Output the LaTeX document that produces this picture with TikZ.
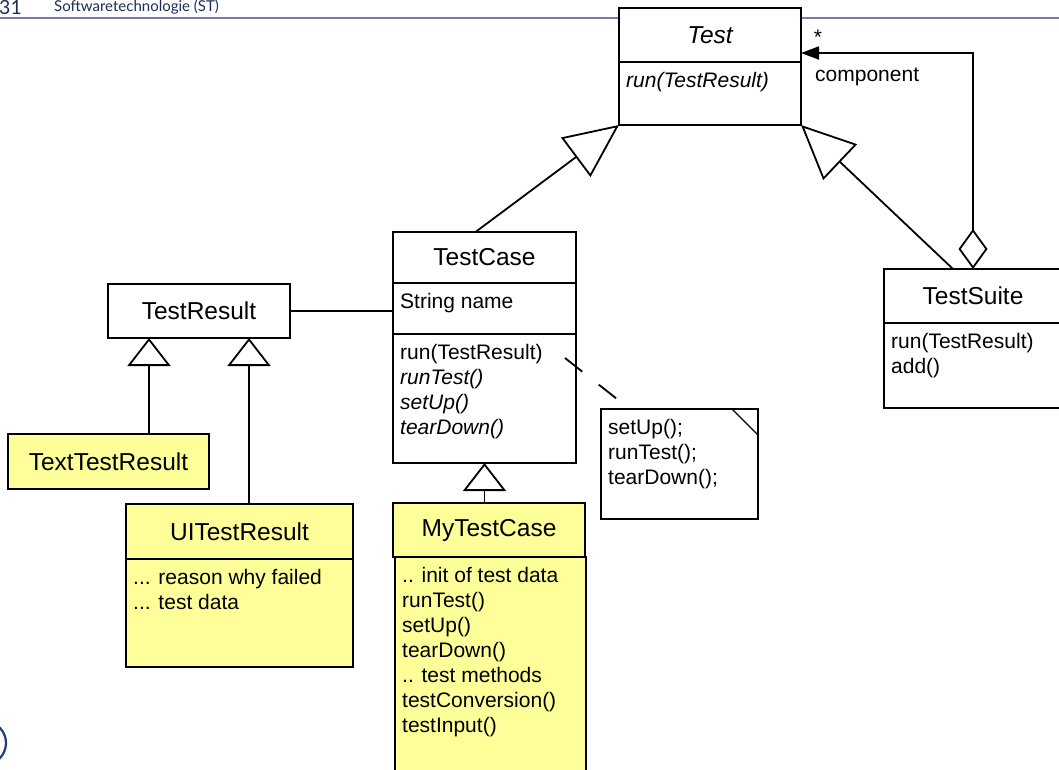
\documentclass[tikz,border=0pt]{standalone}
\usepackage{fontspec}
\setmainfont{Liberation Sans}
\newfontfamily\headerfamily{Lato}
\usetikzlibrary{arrows.meta,calc}

\definecolor{umlyellow}{RGB}{255,255,153}
\definecolor{headblue}{RGB}{30,45,85}
\definecolor{rulegray}{RGB}{115,128,170}
\definecolor{logoblue}{RGB}{35,60,120}

\newcommand{\titlesize}{\fontsize{24.5}{28}\selectfont}
\newcommand{\membersize}{\fontsize{21}{25}\selectfont}

\tikzset{
  classbox/.style={draw, line width=1.3pt, fill=white, inner sep=0pt, outer sep=0pt, anchor=north west, font=\titlesize},
  yellowbox/.style={classbox, fill=umlyellow},
  members/.style={anchor=north west, align=left, inner xsep=7pt, inner ysep=10pt, font=\membersize},
  isa/.style={line width=1.8pt, -{Triangle[open, length=28pt, width=43pt]}},
  isabig/.style={line width=1.8pt, -{Triangle[open, length=54pt, width=49pt]}},
}

\begin{document}
\begin{tikzpicture}[x=1pt, y=-1pt]
\useasboundingbox (0,0) rectangle (1059,769);
% page header
\draw[rulegray, line width=1.8pt] (0,18) -- (1059,18);
\node[anchor=base west, inner sep=0pt, headblue, font=\headerfamily\fontsize{19.5}{22}\selectfont] (pagenum) at (-1,14) {31};
\node[anchor=base west, inner sep=0pt, headblue, font=\headerfamily\fontsize{15}{17}\selectfont] (course) at (54,11) {Softwaretechnologie (ST)};
\draw[logoblue, line width=2.2pt] (-16,743) ++(-65:22) arc[start angle=-65, end angle=65, radius=22];

% Test
\node[classbox, minimum width=182pt, minimum height=54pt] (testtitle) at (619,8) {\itshape Test};
\node[classbox, minimum width=182pt, minimum height=63pt] (testops) at (testtitle.south west) {};
\node[members] (testopstext) at (testops.north west) {\itshape run(TestResult)};

% TestCase
\node[classbox, minimum width=183pt, minimum height=51pt] (casetitle) at (393,232) {TestCase};
\node[classbox, minimum width=183pt, minimum height=51pt] (caseattr) at (casetitle.south west) {};
\node[members] (caseattrtext) at (caseattr.north west) {String name};
\node[classbox, minimum width=183pt, minimum height=129pt] (caseops) at (caseattr.south west) {};
\node[members] (caseopstext) at (caseops.north west) {run(TestResult)\\\textit{runTest()}\\\textit{setUp()}\\\textit{tearDown()}};

% TestResult and subclasses
\node[classbox, minimum width=182pt, minimum height=54pt] (result) at (108,284) {TestResult};
\node[yellowbox, minimum width=201pt, minimum height=55pt] (textresult) at (8,434) {TextTestResult};
\node[yellowbox, minimum width=227pt, minimum height=55pt] (uititle) at (126,504) {UITestResult};
\node[yellowbox, minimum width=227pt, minimum height=108pt] (uiattr) at (uititle.south west) {};
\node[members] (uiattrtext) at (uiattr.north west) {... reason why failed\\... test data};

% MyTestCase
\node[yellowbox, minimum width=192pt, minimum height=54pt] (mytitle) at (393,503) {MyTestCase};
\node[yellowbox, minimum width=191pt, minimum height=230pt] (mybody) at (395,557) {};
\node[members] (mybodytext) at (mybody.north west) {.. init of test data\\runTest()\\setUp()\\tearDown()\\.. test methods\\testConversion()\\testInput()};

% TestSuite
\node[classbox, minimum width=178pt, minimum height=54pt] (suitetitle) at (884,269) {TestSuite};
\node[classbox, minimum width=178pt, minimum height=85pt] (suiteops) at (suitetitle.south west) {};
\node[members] (suiteopstext) at (suiteops.north west) {run(TestResult)\\add()};

% note
\node[classbox, minimum width=157pt, minimum height=110pt] (note) at (601,409) {};
\draw[line width=1.3pt] ($(note.north east)+(-26,0)$) -- ($(note.north east)+(0,26)$);
\node[members] (notetext) at (note.north west) {setUp();\\runTest();\\tearDown();};

% inheritance
\draw[isabig] ($(casetitle.north)+(-9,0)$) -- (testops.south west);
\draw[isabig] ($(suitetitle.north)+(-20,0)$) -- (testops.south east);
\coordinate (textbase) at ($(result.south west)+(41,0)$);
\coordinate (uibase) at ($(result.south east)+(-41,0)$);
\draw[isa] (textbase |- textresult.north) -- (textbase);
\draw[isa] (uibase |- uititle.north) -- (uibase);
\draw[isa] (caseops.south |- mytitle.north) -- (caseops.south);

% aggregation
\coordinate (compin) at ($(testtitle.south east)+(0,-9)$);
\draw[line width=1.8pt, {Diamond[open, length=40pt, width=29pt]}-{Triangle[length=18pt, width=13pt]}] (suitetitle.north) |- (compin);
\node[font=\membersize, inner sep=0pt] (mult) at (818,37) {*};
\node[anchor=west, font=\membersize, inner sep=0pt] (role) at (815,77) {component};

% association and note link
\draw[line width=1.8pt] (result.east) -- (result.east -| casetitle.west);
\draw[line width=1.8pt, dash pattern=on 22pt off 21pt] ($(caseops.north east)+(-11,24)$) -- ($(note.north west)+(16,-10)$);
\end{tikzpicture}
\end{document}
